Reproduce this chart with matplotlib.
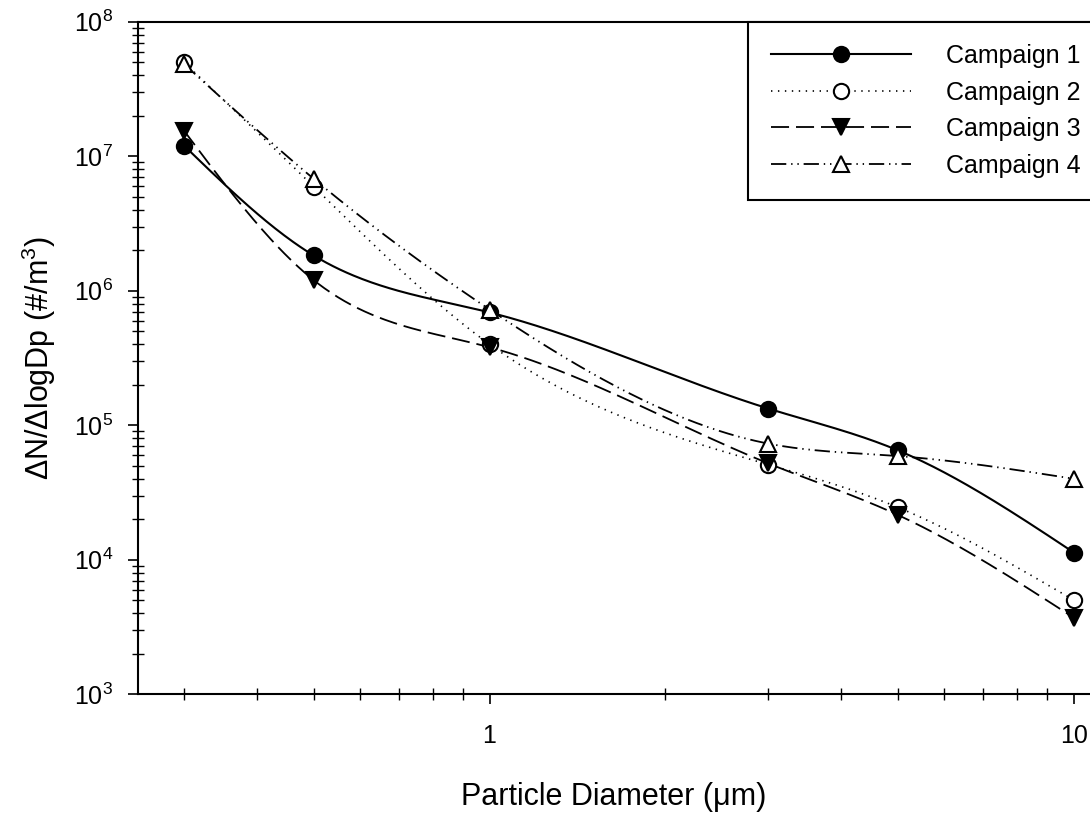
"""Particle size distribution for four campaigns (log-log, smoothed lines)."""

import matplotlib

matplotlib.use("Agg")
import matplotlib.pyplot as plt
import numpy as np
from matplotlib.ticker import FuncFormatter, LogLocator, NullFormatter

plt.rcParams["font.family"] = ["Liberation Sans", "DejaVu Sans"]
plt.rcParams["mathtext.fontset"] = "custom"
plt.rcParams["mathtext.rm"] = "Liberation Sans"
plt.rcParams["mathtext.it"] = "Liberation Sans:italic"
plt.rcParams["lines.scale_dashes"] = False

# Data
diameter = [0.3, 0.5, 1.0, 3.0, 5.0, 10.0]
campaign_1 = [1.2e7, 1.83e6, 6.9e5, 1.33e5, 6.5e4, 1.13e4]
campaign_2 = [5.0e7, 5.95e6, 4.0e5, 5.1e4, 2.45e4, 5.0e3]
campaign_3 = [1.55e7, 1.2e6, 3.8e5, 5.2e4, 2.15e4, 3.7e3]
campaign_4 = [4.85e7, 6.8e6, 7.25e5, 7.3e4, 5.9e4, 4.0e4]
labels = ["Campaign 1", "Campaign 2", "Campaign 3", "Campaign 4"]


def natural_spline(x, y, n=400):
    """Natural cubic spline through (x, y), sampled on n points."""
    x = np.asarray(x, float)
    y = np.asarray(y, float)
    k = len(x)
    h = np.diff(x)
    A = np.zeros((k, k))
    b = np.zeros(k)
    A[0, 0] = 1.0
    A[-1, -1] = 1.0
    for i in range(1, k - 1):
        A[i, i - 1] = h[i - 1]
        A[i, i] = 2 * (h[i - 1] + h[i])
        A[i, i + 1] = h[i]
        b[i] = 6 * ((y[i + 1] - y[i]) / h[i] - (y[i] - y[i - 1]) / h[i - 1])
    m = np.linalg.solve(A, b)
    xs = np.linspace(x[0], x[-1], n)
    idx = np.clip(np.searchsorted(x, xs) - 1, 0, k - 2)
    x0, x1 = x[idx], x[idx + 1]
    hh = x1 - x0
    t0 = x1 - xs
    t1 = xs - x0
    ys = (
        m[idx] * t0**3 / (6 * hh)
        + m[idx + 1] * t1**3 / (6 * hh)
        + (y[idx] / hh - m[idx] * hh / 6) * t0
        + (y[idx + 1] / hh - m[idx + 1] * hh / 6) * t1
    )
    return xs, ys


fig = plt.figure(figsize=(10.9, 8.15), dpi=100)
ax = fig.add_axes([0.1263, 0.1481, 0.8737, 0.8253])

styles = [
    dict(ls="-", lw=1.5, marker="o", mfc="black", ms=11),
    dict(ls=(0, (1, 4)), lw=1.2, marker="o", mfc="white", ms=11),
    dict(ls=(0, (13, 5)), lw=1.3, marker="v", mfc="black", ms=12),
    dict(ls=(0, (11, 3.5, 1, 3.5, 1, 3.5)), lw=1.3, marker="^", mfc="white", ms=12),
]
series = [campaign_1, campaign_2, campaign_3, campaign_4]

lx = np.log10(diameter)
for vals, st, lab in zip(series, styles, labels):
    xs, ys = natural_spline(lx, np.log10(vals))
    ax.plot(10**xs, 10**ys, color="black", ls=st["ls"], lw=st["lw"], zorder=2)
    ax.plot(
        diameter, vals, ls="none", marker=st["marker"], ms=st["ms"],
        mfc=st["mfc"], mec="black", mew=1.5, zorder=3,
    )
    # proxy for legend
    ax.plot(
        [], [], color="black", ls=st["ls"], lw=st["lw"], marker=st["marker"],
        ms=st["ms"], mfc=st["mfc"], mec="black", mew=1.5, label=lab,
    )

ax.set_xscale("log")
ax.set_yscale("log")
ax.set_xlim(0.25, 10.65)
ax.set_ylim(1e3, 1e8)

ax.xaxis.set_minor_locator(LogLocator(base=10, subs=np.arange(2, 10)))
ax.yaxis.set_minor_locator(LogLocator(base=10, subs=np.arange(2, 10)))
ax.xaxis.set_major_formatter(FuncFormatter(lambda v, pos: f"{v:g}"))
ax.xaxis.set_minor_formatter(NullFormatter())
ax.yaxis.set_minor_formatter(NullFormatter())

ax.tick_params(which="major", direction="out", length=7.5, width=1.2,
               labelsize=18, top=False, right=False)
ax.tick_params(which="minor", direction="inout", length=8.6, width=1.0,
               top=False, right=False)
ax.xaxis.set_tick_params(which="major", pad=14)
ax.yaxis.set_tick_params(which="major", pad=10)

for side in ["left", "bottom", "top"]:
    ax.spines[side].set_linewidth(1.5)
ax.spines["right"].set_visible(False)

ax.set_xlabel("Particle Diameter (μm)", fontsize=22)
ax.set_ylabel(r"ΔN/ΔlogDp (#/m$^3$)", fontsize=22)
ax.xaxis.label.set_va("center")
ax.yaxis.label.set_va("center")
ax.xaxis.set_label_coords(0.5, -0.1527)
ax.yaxis.set_label_coords(-0.1036, 0.5)

leg = ax.legend(
    loc="upper left",
    bbox_to_anchor=(748 / 1090, 1 - 21.7 / 815),
    bbox_transform=fig.transFigure,
    borderaxespad=0,
    fontsize=18,
    handlelength=5.6,
    handletextpad=1.4,
    labelspacing=0.5,
    borderpad=0.9,
    fancybox=False,
    framealpha=1,
    edgecolor="black",
)
leg.get_frame().set_linewidth(1.5)

fig.savefig("out.png", dpi=100)
